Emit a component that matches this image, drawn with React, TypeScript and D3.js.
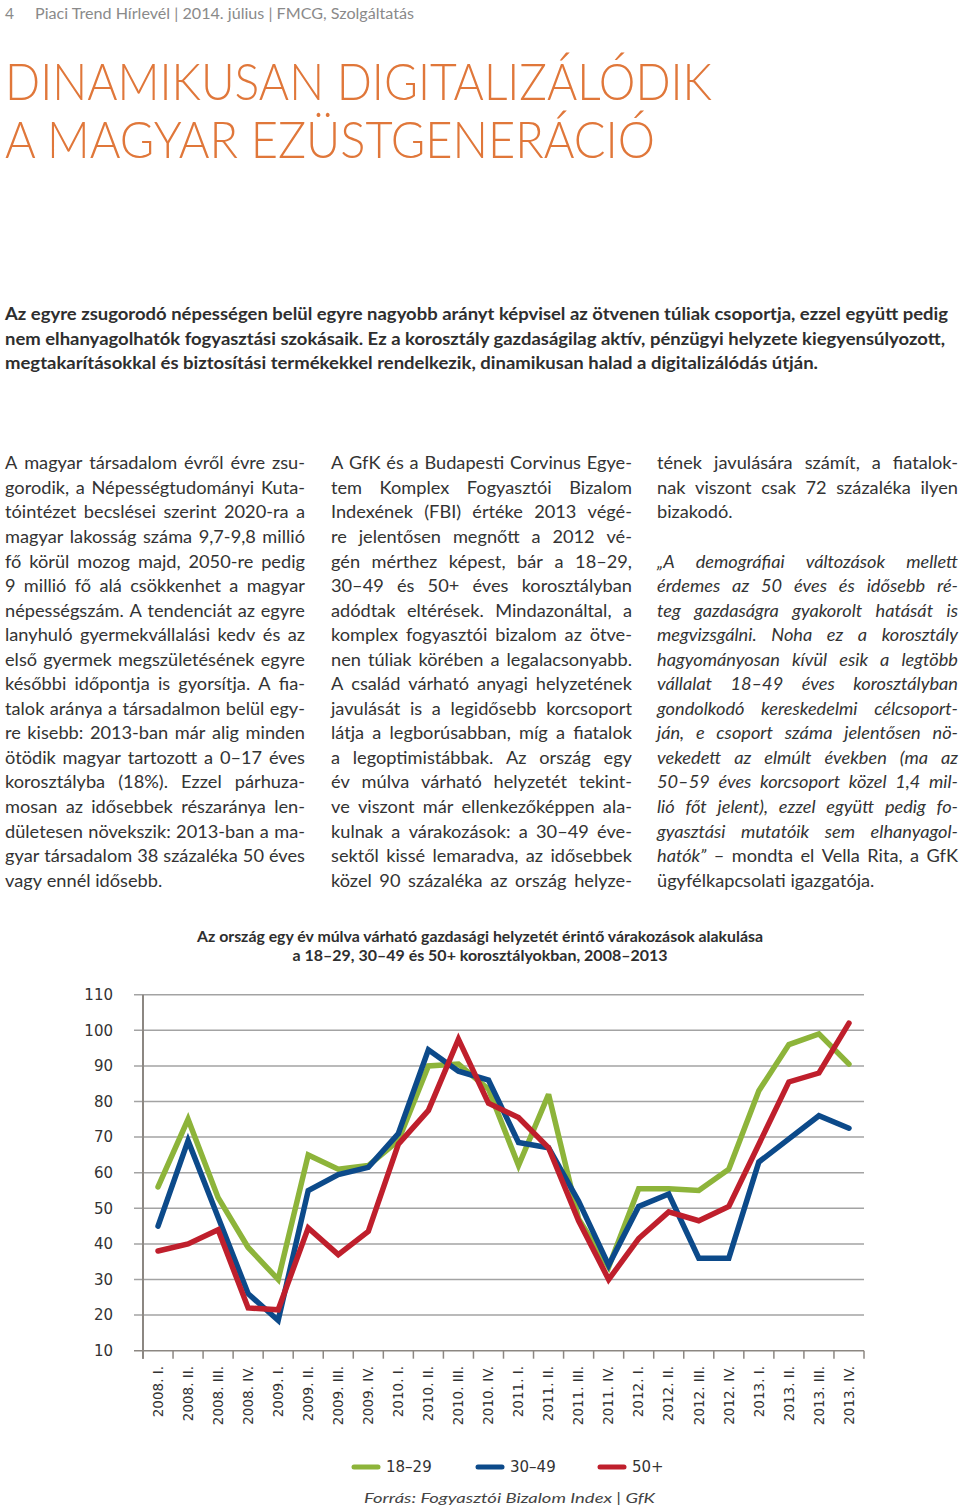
import React from 'react';
import * as d3 from 'd3';

// ---------- DATA ----------
const categories = [
  '2008. I.', '2008. II.', '2008. III.', '2008. IV.',
  '2009. I.', '2009. II.', '2009. III.', '2009. IV.',
  '2010. I.', '2010. II.', '2010. III.', '2010. IV.',
  '2011. I.', '2011. II.', '2011. III.', '2011. IV.',
  '2012. I.', '2012. II.', '2012. III.', '2012. IV.',
  '2013. I.', '2013. II.', '2013. III.', '2013. IV.',
];
const series18to29 = [56, 75, 53, 39, 30, 65, 61, 62, 69, 90, 90.5, 83.5, 62, 82, 47, 33.5, 55.5, 55.5, 55, 61, 83, 96, 99, 90.5];
const series30to49 = [45, 69, 47.5, 26, 18.5, 55, 59.5, 61.5, 71, 94.5, 88.5, 86, 68.5, 67, 52, 34, 50.5, 54, 36, 36, 63, 69.5, 76, 72.5];
const series50plus = [38, 40, 44, 22, 21.5, 44.5, 37, 43.5, 68, 77.5, 97.5, 79.5, 75.5, 67, 46.5, 30, 41.5, 49, 46.5, 50.5, 68, 85.5, 88, 102];
const seriesNames = ['18–29', '30–49', '50+'];
const seriesColors = ['#8db43a', '#0c4a8a', '#bf1f2c'];
const yTicks = [10, 20, 30, 40, 50, 60, 70, 80, 90, 100, 110];

const headerText = 'Piaci Trend Hírlevél | 2014. július | FMCG, Szolgáltatás';
const titleLines = ['DINAMIKUSAN DIGITALIZÁLÓDIK', 'A MAGYAR EZÜSTGENERÁCIÓ'];
const introLines = [
  'Az egyre zsugorodó népességen belül egyre nagyobb arányt képvisel az ötvenen túliak csoportja, ezzel együtt pedig',
  'nem elhanyagolhatók fogyasztási szokásaik. Ez a korosztály gazdaságilag aktív, pénzügyi helyzete kiegyensúlyozott,',
  'megtakarításokkal és biztosítási termékekkel rendelkezik, dinamikusan halad a digitalizálódás útján.',
];
const introWidths = [943, 940, 813];

const col1Lines = [
  'A magyar társadalom évről évre zsu-',
  'gorodik, a Népességtudományi Kuta-',
  'tóintézet becslései szerint 2020-ra a',
  'magyar lakosság száma 9,7-9,8 millió',
  'fő körül mozog majd, 2050-re pedig',
  '9 millió fő alá csökkenhet a magyar',
  'népességszám. A tendenciát az egyre',
  'lanyhuló gyermekvállalási kedv és az',
  'első gyermek megszületésének egyre',
  'későbbi időpontja is gyorsítja. A fia-',
  'talok aránya a társadalmon belül egy-',
  're kisebb: 2013-ban már alig minden',
  'ötödik magyar tartozott a 0–17 éves',
  'korosztályba (18%). Ezzel párhuza-',
  'mosan az idősebbek részaránya len-',
  'dületesen növekszik: 2013-ban a ma-',
  'gyar társadalom 38 százaléka 50 éves',
  'vagy ennél idősebb.',
];
const col1Justify = col1Lines.map((_, i) => i < col1Lines.length - 1);

const col2Lines = [
  'A GfK és a Budapesti Corvinus Egye-',
  'tem Komplex Fogyasztói Bizalom',
  'Indexének (FBI) értéke 2013 végé-',
  're jelentősen megnőtt a 2012 vé-',
  'gén mérthez képest, bár a 18–29,',
  '30–49 és 50+ éves korosztályban',
  'adódtak eltérések. Mindazonáltal, a',
  'komplex fogyasztói bizalom az ötve-',
  'nen túliak körében a legalacsonyabb.',
  'A család várható anyagi helyzetének',
  'javulását is a legidősebb korcsoport',
  'látja a legborúsabban, míg a fiatalok',
  'a legoptimistábbak. Az ország egy',
  'év múlva várható helyzetét tekint-',
  've viszont már ellenkezőképpen ala-',
  'kulnak a várakozások: a 30–49 éve-',
  'sektől kissé lemaradva, az idősebbek',
  'közel 90 százaléka az ország helyze-',
];
const col2Justify = col2Lines.map(() => true);

const col3Lines = [
  'tének javulására számít, a fiatalok-',
  'nak viszont csak 72 százaléka ilyen',
  'bizakodó.',
  '',
  '„A demográfiai változások mellett',
  'érdemes az 50 éves és idősebb ré-',
  'teg gazdaságra gyakorolt hatását is',
  'megvizsgálni. Noha ez a korosztály',
  'hagyományosan kívül esik a legtöbb',
  'vállalat 18–49 éves korosztályban',
  'gondolkodó kereskedelmi célcsoport-',
  'ján, e csoport száma jelentősen nö-',
  'vekedett az elmúlt években (ma az',
  '50–59 éves korcsoport közel 1,4 mil-',
  'lió főt jelent), ezzel együtt pedig fo-',
  'gyasztási mutatóik sem elhanyagol-',
  'hatók” – mondta el Vella Rita, a GfK',
  'ügyfélkapcsolati igazgatója.',
];
const col3Justify = [true, true, false, false, true, true, true, true, true, true, true, true, true, true, true, true, true, false];
const col3ItalicWords = [0, 0, 0, 0, 99, 99, 99, 99, 99, 99, 99, 99, 99, 99, 99, 99, 1, 0];

const chartTitle = [
  'Az ország egy év múlva várható gazdasági helyzetét érintő várakozások alakulása',
  'a 18–29, 30–49 és 50+ korosztályokban, 2008–2013',
];
const sourceText = 'Forrás: Fogyasztói Bizalom Index | GfK';

// ---------- TEXT HELPERS ----------
let ctx: CanvasRenderingContext2D | null = null;
function measure(s: string, font: string): number {
  if (!ctx) ctx = document.createElement('canvas').getContext('2d');
  if (!ctx) return s.length * 8;
  ctx.font = font;
  return ctx.measureText(s).width;
}

const BODY_FAMILY = 'Lato, "Open Sans", sans-serif';

function JustLine(props: {
  x: number; y: number; width: number; text: string; justify: boolean;
  size: number; weight?: number; italicWords?: number; color: string; family?: string;
  stretch?: number;
}) {
  const { x, y, width, text, justify, size, color } = props;
  const weight = props.weight ?? 400;
  const family = props.family ?? BODY_FAMILY;
  const itw = props.italicWords ?? 0;
  const baseStretch = props.stretch ?? 1.04;
  if (!text) return null;
  const words = text.split(' ');
  const fontOf = (it: boolean) => `${it ? 'italic ' : ''}${weight} ${size}px ${family}`;
  const widths = words.map((w, i) => measure(w, fontOf(i < itw)));
  const space = measure(' ', fontOf(false));
  const sum = widths.reduce((a, b) => a + b, 0);
  const natural = sum + space * (words.length - 1);
  let k = baseStretch;
  let gap = space;
  if (justify && words.length > 1) {
    // stretch glyphs a little toward the target, rest goes to word gaps
    k = Math.max(0.85, Math.min(baseStretch, width / natural));
    gap = (width / k - sum) / (words.length - 1);
    if (gap < space * 0.6) {
      gap = space * 0.6;
      k = width / (sum + gap * (words.length - 1));
    }
  }
  let cx = 0;
  const xs = widths.map((w) => { const p = cx; cx += w + gap; return p; });
  return (
    <g transform={`translate(${x},${y}) scale(${k},1)`}>
      <text fontFamily={family} fontSize={size} fontWeight={weight} fill={color}>
        {words.map((w, i) => (
          <tspan key={i} x={xs[i]} y={0} fontStyle={i < itw ? 'italic' : 'normal'}>{w}</tspan>
        ))}
      </text>
    </g>
  );
}

// ---------- CHART ----------
function Chart() {
  const x = d3.scaleBand<string>().domain(categories).range([143, 864]).padding(0);
  const y = d3.scaleLinear().domain([10, 110]).range([1350.7, 994.7]);
  const cx = (c: string) => (x(c) ?? 0) + x.bandwidth() / 2;
  const allSeries = [series18to29, series30to49, series50plus];
  const line = d3.line<number>()
    .x((_, i) => cx(categories[i]))
    .y((d) => y(d));
  const axisColor = '#8c8782';
  const bounds = d3.range(categories.length + 1).map((i) => 143 + i * x.step());
  return (
    <g>
      {yTicks.map((t) => (
        <g key={t}>
          <line x1={134} x2={864} y1={y(t)} y2={y(t)} stroke={t === 10 ? axisColor : '#a3a3a3'} strokeWidth={1.5} />
          <text x={113} y={y(t)} dy="0.35em" textAnchor="end" fontFamily='"DejaVu Sans", sans-serif' fontSize={15} fill="#333">{t}</text>
        </g>
      ))}
      <line x1={143} x2={143} y1={y(110)} y2={y(10) + 8} stroke={axisColor} strokeWidth={2} />
      {bounds.map((b, i) => (
        <line key={i} x1={b} x2={b} y1={y(10)} y2={y(10) + 8} stroke={axisColor} strokeWidth={1.5} />
      ))}
      {categories.map((c) => (
        <text key={c} transform={`translate(${cx(c)},1366) rotate(-90)`} textAnchor="end" dy="0.35em"
          fontFamily='"DejaVu Sans", sans-serif' fontSize={13.5} fill="#333">{c}</text>
      ))}
      {allSeries.map((s, i) => (
        <path key={i} d={line(s) ?? ''} fill="none" stroke={seriesColors[i]} strokeWidth={5.5}
          strokeLinejoin="miter" strokeMiterlimit={3} strokeLinecap="round" />
      ))}
      {[354, 478, 600].map((lx, i) => (
        <g key={i}>
          <line x1={lx} x2={lx + 24} y1={1467} y2={1467} stroke={seriesColors[i]} strokeWidth={5} strokeLinecap="round" />
          <text x={lx + 32} y={1467} dy="0.36em" fontFamily='"DejaVu Sans", sans-serif' fontSize={15} fill="#333">{seriesNames[i]}</text>
        </g>
      ))}
      <text x={364} y={1503} fontFamily={BODY_FAMILY} fontStyle="italic" fontSize={14} fill="#444"
        textLength={291} lengthAdjust="spacingAndGlyphs">{sourceText}</text>
    </g>
  );
}

export default function App() {
  const lh = 24.55;
  const base = 469.3;
  return (
    <svg width={960} height={1507} viewBox="0 0 960 1507"
      style={{ position: 'absolute', left: 0, top: 0, background: '#fff' }}>
      <rect x={0} y={0} width={960} height={1507} fill="#fff" />
      <text x={5} y={19} fontFamily={BODY_FAMILY} fontSize={15.5} fill="#8a8a8a">4</text>
      <text x={35} y={19} fontFamily={BODY_FAMILY} fontSize={15.5} fill="#8a8a8a" textLength={379} lengthAdjust="spacingAndGlyphs">{headerText}</text>
      <text x={5} y={100} fontFamily={BODY_FAMILY} fontWeight={300} fontSize={51} fill="#e0773a" textLength={707} lengthAdjust="spacingAndGlyphs">{titleLines[0]}</text>
      <text x={5} y={158} fontFamily={BODY_FAMILY} fontWeight={300} fontSize={51} fill="#e0773a" textLength={650} lengthAdjust="spacingAndGlyphs">{titleLines[1]}</text>
      {introLines.map((t, i) => (
        <text key={i} x={5} y={320 + i * 24.5} fontFamily={BODY_FAMILY} fontWeight={700} fontSize={16.5} fill="#2e2e2e"
          textLength={introWidths[i]} lengthAdjust="spacingAndGlyphs">{t}</text>
      ))}
      {col1Lines.map((t, i) => (
        <JustLine key={'a' + i} x={5} y={base + i * lh} width={300} text={t} justify={col1Justify[i]} size={17.5} color="#333" />
      ))}
      {col2Lines.map((t, i) => (
        <JustLine key={'b' + i} x={331} y={base + i * lh} width={301} text={t} justify={col2Justify[i]} size={17.5} color="#333" />
      ))}
      {col3Lines.map((t, i) => (
        <JustLine key={'c' + i} x={657} y={base + i * lh} width={301} text={t} justify={col3Justify[i]} size={17.5}
          italicWords={col3ItalicWords[i]} color="#333" />
      ))}
      <text x={480} y={942} textAnchor="middle" fontFamily={BODY_FAMILY} fontWeight={700} fontSize={14.5} fill="#2e2e2e"
        textLength={566} lengthAdjust="spacingAndGlyphs">{chartTitle[0]}</text>
      <text x={480} y={961} textAnchor="middle" fontFamily={BODY_FAMILY} fontWeight={700} fontSize={14.5} fill="#2e2e2e"
        textLength={375} lengthAdjust="spacingAndGlyphs">{chartTitle[1]}</text>
      <Chart />
    </svg>
  );
}
